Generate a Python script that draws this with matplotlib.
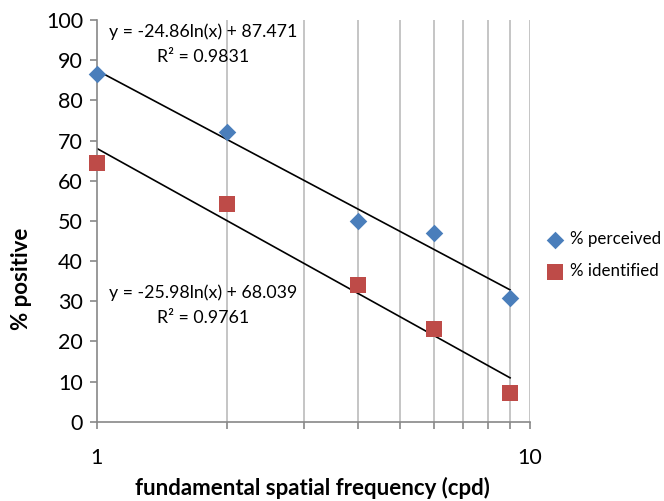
import numpy as np
import matplotlib.pyplot as plt
from matplotlib.ticker import FixedLocator, NullFormatter

plt.rcParams['font.family'] = ['Lato', 'DejaVu Sans']

freq = [1, 2, 4, 6, 9]
perceived = [86.5, 72.1, 50.1, 46.9, 30.9]
identified = [64.4, 54.1, 34.1, 23.1, 7.1]

# excel log trendlines
fit_p = (-24.86, 87.471, 0.9831)
fit_i = (-25.98, 68.039, 0.9761)

fig = plt.figure(figsize=(6.64, 5.01), dpi=100)
ax = fig.add_axes([0.146, 0.158, 0.652, 0.802])

ax.set_xscale('log')
ax.set_xlim(1, 10)
ax.set_ylim(0, 100)

minor = [2, 3, 4, 5, 6, 7, 8, 9, 10]
for x in minor:
    ax.axvline(x, color='#c0c0c0', lw=1.3, zorder=0)

xs = np.linspace(1, 9, 100)
ax.plot(xs, fit_p[0] * np.log(xs) + fit_p[1], color='black', lw=1.2, zorder=2)
ax.plot(xs, fit_i[0] * np.log(xs) + fit_i[1], color='black', lw=1.2, zorder=2)

ax.scatter(freq, perceived, marker='D', s=80, color='#4a7ebb', label='% perceived',
           zorder=3, linewidths=0, clip_on=False)
ax.scatter(freq, identified, marker='s', s=140, color='#be4b48', label='% identified',
           zorder=3, linewidths=0, clip_on=False)

eq_x = 1.757
ax.text(eq_x, 97.0, 'y = -24.86ln(x) + 87.471', ha='center', va='center', fontsize=12.8)
ax.text(eq_x, 90.8, 'R² = 0.9831', ha='center', va='center', fontsize=12.8)
ax.text(eq_x, 32.1, 'y = -25.98ln(x) + 68.039', ha='center', va='center', fontsize=12.8)
ax.text(eq_x, 25.9, 'R² = 0.9761', ha='center', va='center', fontsize=12.8)

for s in ['top', 'right']:
    ax.spines[s].set_visible(False)
for s in ['left', 'bottom']:
    ax.spines[s].set_color('#888888')
    ax.spines[s].set_linewidth(1.2)

ax.set_yticks(range(0, 101, 10))
ax.xaxis.set_major_locator(FixedLocator([1, 10]))
ax.xaxis.set_minor_locator(FixedLocator(minor))
ax.xaxis.set_minor_formatter(NullFormatter())
ax.set_xticklabels(['1', '10'])
ax.tick_params(axis='both', which='both', color='#888888', width=1.2, length=5, labelsize=15.5)
ax.tick_params(axis='x', which='major', pad=14)
ax.tick_params(axis='y', pad=5)

fig.text(0.033, 0.443, '% positive', rotation=90, ha='center', va='center',
         fontsize=16, fontweight='bold')
fig.text(0.471, 0.026, 'fundamental spatial frequency (cpd)', ha='center', va='center',
         fontsize=16, fontweight='bold')

ax.legend(loc='center left', bbox_to_anchor=(1.027, 0.415), frameon=False, fontsize=12.2,
          handletextpad=0.1, labelspacing=0.95, borderaxespad=0, borderpad=0,
          scatterpoints=1, handlelength=1.6)

fig.savefig('out.png', dpi=100)
